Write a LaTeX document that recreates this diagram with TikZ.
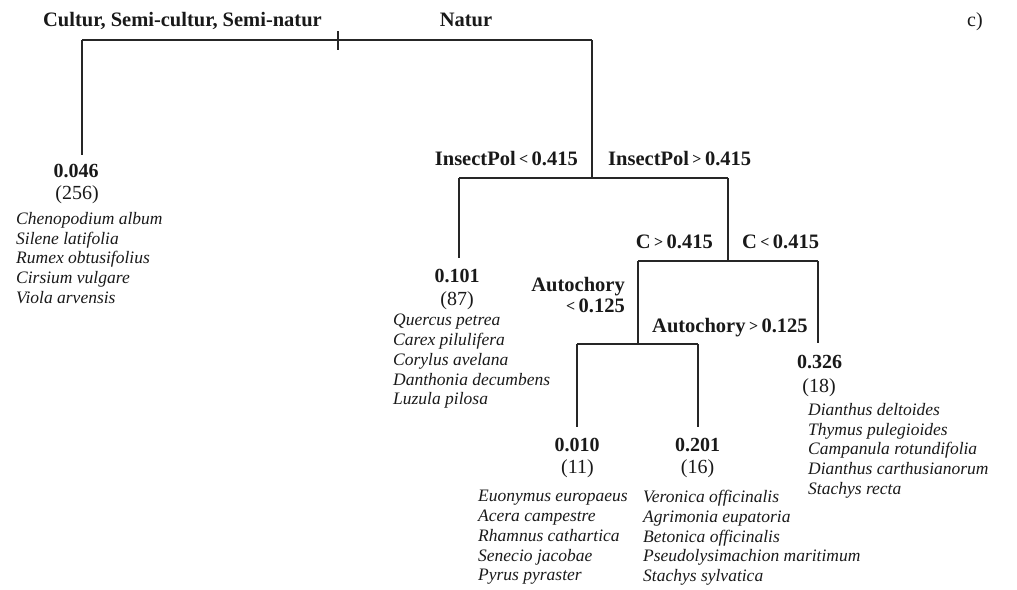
\documentclass[tikz,border=0pt]{standalone}
\usepackage{fontspec}
\setmainfont{Liberation Serif}
% small comparison signs used in the split rules
\newcommand{\lsign}{\,\raisebox{0.1ex}{\fontsize{16}{16}\selectfont<}\,}
\newcommand{\gsign}{\,\raisebox{0.1ex}{\fontsize{16}{16}\selectfont>}\,}
\begin{document}
\begin{tikzpicture}[x=1pt,y=-1pt,
  branch/.style={line width=1.3pt, draw=black!85},
  rule/.style={font=\bfseries\fontsize{20.5}{21}\selectfont, inner sep=0pt, text=black!90},
  leafval/.style={font=\bfseries\fontsize{20}{22}\selectfont, inner sep=0pt, anchor=base, text=black!90},
  leafcount/.style={font=\fontsize{20}{22}\selectfont, inner sep=0pt, anchor=base, text=black!90},
  species/.style={font=\itshape\fontsize{17.5}{19.8}\selectfont, inner sep=0pt, anchor=north west, align=left, text=black!90}]
\useasboundingbox (0,0) rectangle (1017,589);

% junction points of the tree
\coordinate (rootL) at (82,40);
\coordinate (rootR) at (592,40);
\coordinate (tickT) at (338,31);
\coordinate (tickB) at (338,50);
\coordinate (leaf1) at (82,155);
\coordinate (insL) at (459,178);
\coordinate (insM) at (592,178);
\coordinate (insR) at (728,178);
\coordinate (leaf2) at (459,258);
\coordinate (cL) at (638,261);
\coordinate (cR) at (818,261);
\coordinate (leaf3) at (818,343);
\coordinate (autL) at (577,344);
\coordinate (autM) at (638,344);
\coordinate (autR) at (698,344);
\coordinate (leaf4) at (577,427);
\coordinate (leaf5) at (698,427);

% branches
\draw[branch] (rootL) -- (rootR);
\draw[branch] (tickT) -- (tickB);
\draw[branch] (rootL) -- (leaf1);
\draw[branch] (rootR) -- (insM);
\draw[branch] (insL) -- (insR);
\draw[branch] (insL) -- (leaf2);
\draw[branch] (insR) -- (cR -| insR);
\draw[branch] (cL) -- (cR);
\draw[branch] (cR) -- (leaf3);
\draw[branch] (cL) -- (autM);
\draw[branch] (autL) -- (autR);
\draw[branch] (autL) -- (leaf4);
\draw[branch] (autR) -- (leaf5);

% split rules
\node[rule, anchor=base] (habA) at (182.5,27) {Cultur, Semi-cultur, Semi-natur};
\node[rule, anchor=base] (habB) at (466,27) {Natur};
\node[font=\fontsize{20}{22}\selectfont, inner sep=0pt, anchor=base west, text=black!90] (panel) at (967,27) {c)};
\node[rule, anchor=base east] (insLo) at (578,165) {InsectPol\lsign0.415};
\node[rule, anchor=base west] (insHi) at (608,165) {InsectPol\gsign0.415};
\node[rule, anchor=base east] (cHi) at (713,248) {C\gsign0.415};
\node[rule, anchor=base west] (cLo) at (742,248) {C\lsign0.415};
\node[rule, anchor=base east, align=right] (autLo) at (625,312) {Autochory\\[-0.5pt]\lsign0.125};
\node[rule, anchor=base west] (autHi) at (652,332) {Autochory\gsign0.125};

% leaf 1
\node[leafval] (v1) at (76,177) {0.046};
\node[leafcount] (n1) at (77,199) {(256)};
\node[species] (s1) at (16,212) {Chenopodium album\\Silene latifolia\\Rumex obtusifolius\\Cirsium vulgare\\Viola arvensis};

% leaf 2
\node[leafval] (v2) at (457,282) {0.101};
\node[leafcount] (n2) at (457,305) {(87)};
\node[species] (s2) at (393,314) {Quercus petrea\\Carex pilulifera\\Corylus avelana\\Danthonia decumbens\\Luzula pilosa};

% leaf 3
\node[leafval] (v3) at (819.5,368) {0.326};
\node[leafcount] (n3) at (819,392) {(18)};
\node[species] (s3) at (808,403) {Dianthus deltoides\\Thymus pulegioides\\Campanula rotundifolia\\Dianthus carthusianorum\\Stachys recta};

% leaf 4
\node[leafval] (v4) at (577,451) {0.010};
\node[leafcount] (n4) at (577.5,473) {(11)};
\node[species] (s4) at (478,490) {Euonymus europaeus\\Acera campestre\\Rhamnus cathartica\\Senecio jacobae\\Pyrus pyraster};

% leaf 5
\node[leafval] (v5) at (697.5,451) {0.201};
\node[leafcount] (n5) at (697.5,473) {(16)};
\node[species] (s5) at (643,490) {Veronica officinalis\\Agrimonia eupatoria\\Betonica officinalis\\Pseudolysimachion maritimum\\Stachys sylvatica};
\end{tikzpicture}
\end{document}
